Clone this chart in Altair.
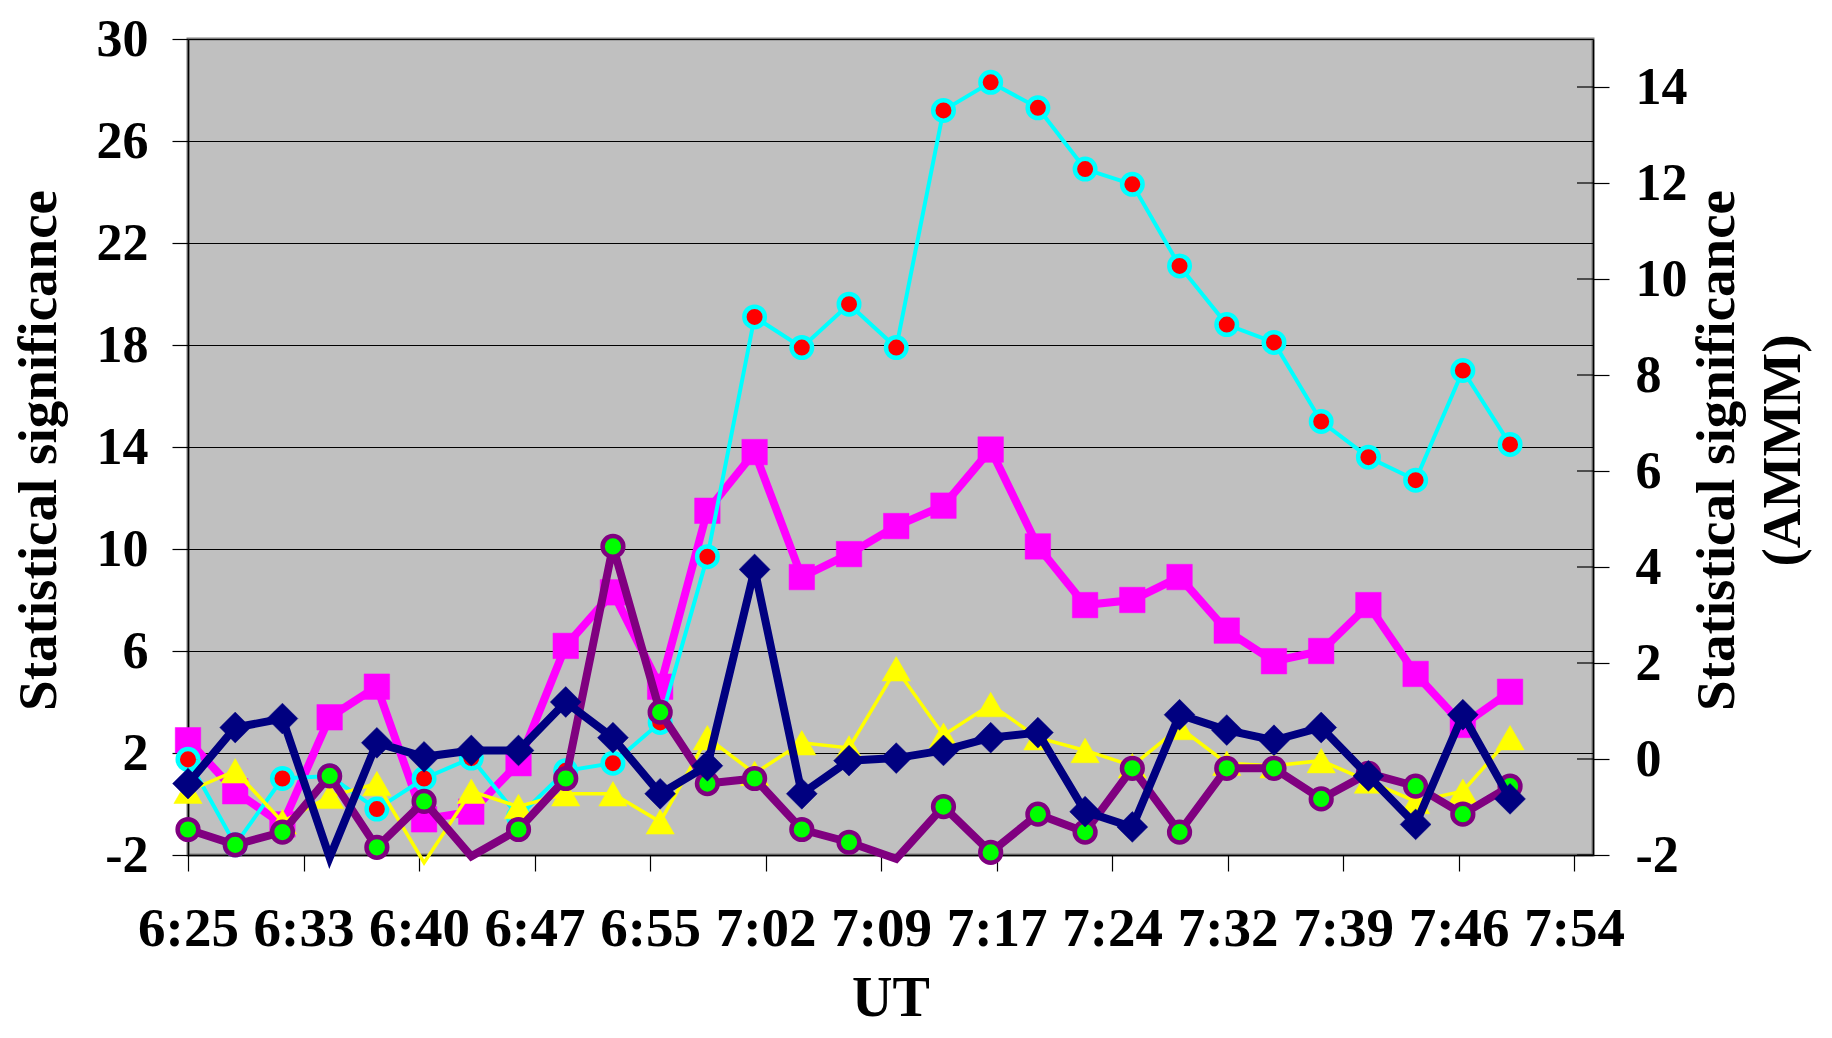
import altair as alt
import pandas as pd

# ---- data ----
times = ["6:25", "6:28", "6:31", "6:34", "6:37", "6:40", "6:43", "6:46", "6:49", "6:52",
         "6:55", "6:58", "7:01", "7:04", "7:07", "7:10", "7:13", "7:16", "7:19", "7:22",
         "7:25", "7:28", "7:31", "7:34", "7:37", "7:40", "7:43", "7:46", "7:49"]

magenta_sq = [2.5, 0.5, -0.8, 3.4, 4.6, -0.6, -0.3, 1.6, 6.2, 8.3,
              4.6, 11.5, 13.8, 8.9, 9.8, 10.9, 11.7, 13.9, 10.1, 7.8,
              8.0, 8.9, 6.8, 5.6, 6.0, 7.8, 5.1, 3.1, 4.4]
cyan_red = [1.75, -1.6, 1.0, 1.1, -0.2, 1.0, 1.8, -0.5, 1.3, 1.6,
            3.2, 9.7, 19.1, 17.9, 19.6, 17.9, 27.2, 28.3, 27.3, 24.9,
            24.3, 21.1, 18.8, 18.1, 15.0, 13.6, 12.7, 17.0, 14.1]
yellow_tri = [0.5, 1.3, -0.7, 0.3, 0.8, -2.3, 0.5, -0.1, 0.4, 0.4,
              -0.7, 2.6, 1.2, 2.4, 2.2, 5.3, 2.7, 3.9, 2.6, 2.1,
              1.5, 3.0, 1.6, 1.5, 1.7, 0.9, 0.1, 0.5, 2.6]
purple_green = [-1.0, -1.6, -1.1, 1.1, -1.7, 0.1, -2.05, -1.0, 1.0, 10.1,
                3.6, 0.8, 1.0, -1.0, -1.5, -2.15, -0.1, -1.9, -0.4, -1.1,
                1.4, -1.1, 1.4, 1.4, 0.2, 1.2, 0.7, -0.4, 0.7]
navy_dia = [0.8, 3.0, 3.35, -2.1, 2.4, 1.85, 2.1, 2.1, 4.0, 2.6,
            0.4, 1.5, 9.2, 0.4, 1.7, 1.8, 2.1, 2.6, 2.8, -0.3,
            -0.9, 3.5, 2.9, 2.5, 3.0, 1.1, -0.8, 3.5, 0.2]

x_tick_labels = ["6:25", "6:33", "6:40", "6:47", "6:55", "7:02", "7:09",
                 "7:17", "7:24", "7:32", "7:39", "7:46", "7:54"]
left_ticks = [-2, 2, 6, 10, 14, 18, 22, 26, 30]
right_ticks = [-2, 0, 2, 4, 6, 8, 10, 12, 14]

# ---- layout ----
W, H = 1405, 816
FONT = "Liberation Serif"
X_MAX = 89.27
TICK_STEP = 88.07 / 12
HYPHEN_EXPR = "replace(datum.label, '\u2212', '-')"


def to_min(t):
    h, m = t.split(":")
    return int(h) * 60 + int(m)


t0 = to_min(times[0])
xs = [to_min(t) - t0 for t in times]
tick_vals = [i * TICK_STEP for i in range(len(x_tick_labels))]
label_expr = "[" + ",".join("'%s'" % l for l in x_tick_labels) + "][round(datum.value/%f)]" % TICK_STEP

x_enc = alt.X(
    "t:Q",
    scale=alt.Scale(domain=[0, X_MAX], nice=False, zero=False),
    axis=alt.Axis(
        values=tick_vals, labelExpr=label_expr, title="UT",
        labelFont=FONT, labelFontWeight="bold", labelFontSize=55, labelColor="black",
        labelPadding=31, labelOverlap=False, labelFlush=False, labelBound=False,
        tickSize=16, tickColor="black", tickWidth=1.2,
        domainColor="black", domainWidth=1.5, grid=False,
        titleFont=FONT, titleFontWeight="bold", titleFontSize=56, titleColor="black",
        titleY=160, titleBaseline="alphabetic",
    ),
)

y_enc = alt.Y(
    "v:Q",
    scale=alt.Scale(domain=[-2, 30], nice=False, zero=False),
    axis=alt.Axis(
        values=left_ticks, orient="left", labelExpr=HYPHEN_EXPR,
        labelFont=FONT, labelFontWeight="bold", labelFontSize=52, labelColor="black",
        labelPadding=24, tickSize=16, tickColor="black", tickWidth=1.2,
        domainColor="black", domainWidth=1.5,
        grid=True, gridColor="black", gridWidth=1,
        title="Statistical significance",
        titleFont=FONT, titleFontWeight="bold", titleFontSize=55, titleColor="black",
        titleAngle=270, titleX=-133, titleY=411, titleAlign="center",
        titleBaseline="alphabetic",
    ),
)

series = [
    dict(vals=magenta_sq, line="#FF00FF", lw=8, shape="square", fill="#FF00FF",
         stroke="#FF00FF", size=650, sw=0.5),
    dict(vals=cyan_red, line="#00FFFF", lw=4, shape="circle", fill="#FF0000",
         stroke="#00FFFF", size=420, sw=4.5),
    dict(vals=yellow_tri, line="#FFFF00", lw=3.5, shape="triangle-up", fill="#FFFF00",
         stroke="#FFFF00", size=800, sw=0.5),
    dict(vals=purple_green, line="#800080", lw=8, shape="circle", fill="#00FF00",
         stroke="#800080", size=430, sw=4.5),
    dict(vals=navy_dia, line="#000080", lw=8, shape="diamond", fill="#000080",
         stroke="#000080", size=950, sw=0.5),
]

left_layers = []
for s in series:
    df = pd.DataFrame({"t": xs, "v": s["vals"]})
    base = alt.Chart(df)
    line = base.mark_line(color=s["line"], strokeWidth=s["lw"], strokeJoin="miter").encode(
        x=x_enc, y=y_enc)
    pts = base.transform_filter("datum.v >= -2").mark_point(
        shape=s["shape"], filled=True, fill=s["fill"], stroke=s["stroke"],
        strokeWidth=s["sw"], size=s["size"], opacity=1,
    ).encode(x=x_enc, y=y_enc)
    left_layers += [line, pts]

left = alt.layer(*left_layers)

right_df = pd.DataFrame({"r": right_ticks})
right = alt.Chart(right_df).mark_rule(color="black", strokeWidth=1.2).encode(
    y=alt.Y(
        "r:Q",
        scale=alt.Scale(domain=[-2, 15], nice=False, zero=False),
        axis=alt.Axis(
            values=right_ticks, orient="right", labelExpr=HYPHEN_EXPR,
            labelFont=FONT, labelFontWeight="bold", labelFontSize=52, labelColor="black",
            labelPadding=26, tickSize=16, tickColor="black", tickWidth=1.2,
            domainColor="black", domainWidth=1.5, grid=False,
            title=["Statistical significance", "(AMMM)"],
            titleFont=FONT, titleFontWeight="bold", titleFontSize=55, titleColor="black",
            titleAngle=270, titleX=140, titleY=411, titleAlign="center",
            titleBaseline="alphabetic", titleLineHeight=66,
        ),
    ),
    x=alt.value(W - 16),
    x2=alt.value(W),
)

chart = alt.layer(left, right).resolve_scale(y="independent").properties(
    width=W, height=H,
    autosize=alt.AutoSizeParams(type="none"),
    padding={"left": 180, "top": 31, "right": 231, "bottom": 175},
    background="white",
).configure_view(
    fill="#C0C0C0", stroke="#808080", strokeWidth=3,
)

chart.save("out.html", embed_options={"renderer": "svg", "actions": False})
